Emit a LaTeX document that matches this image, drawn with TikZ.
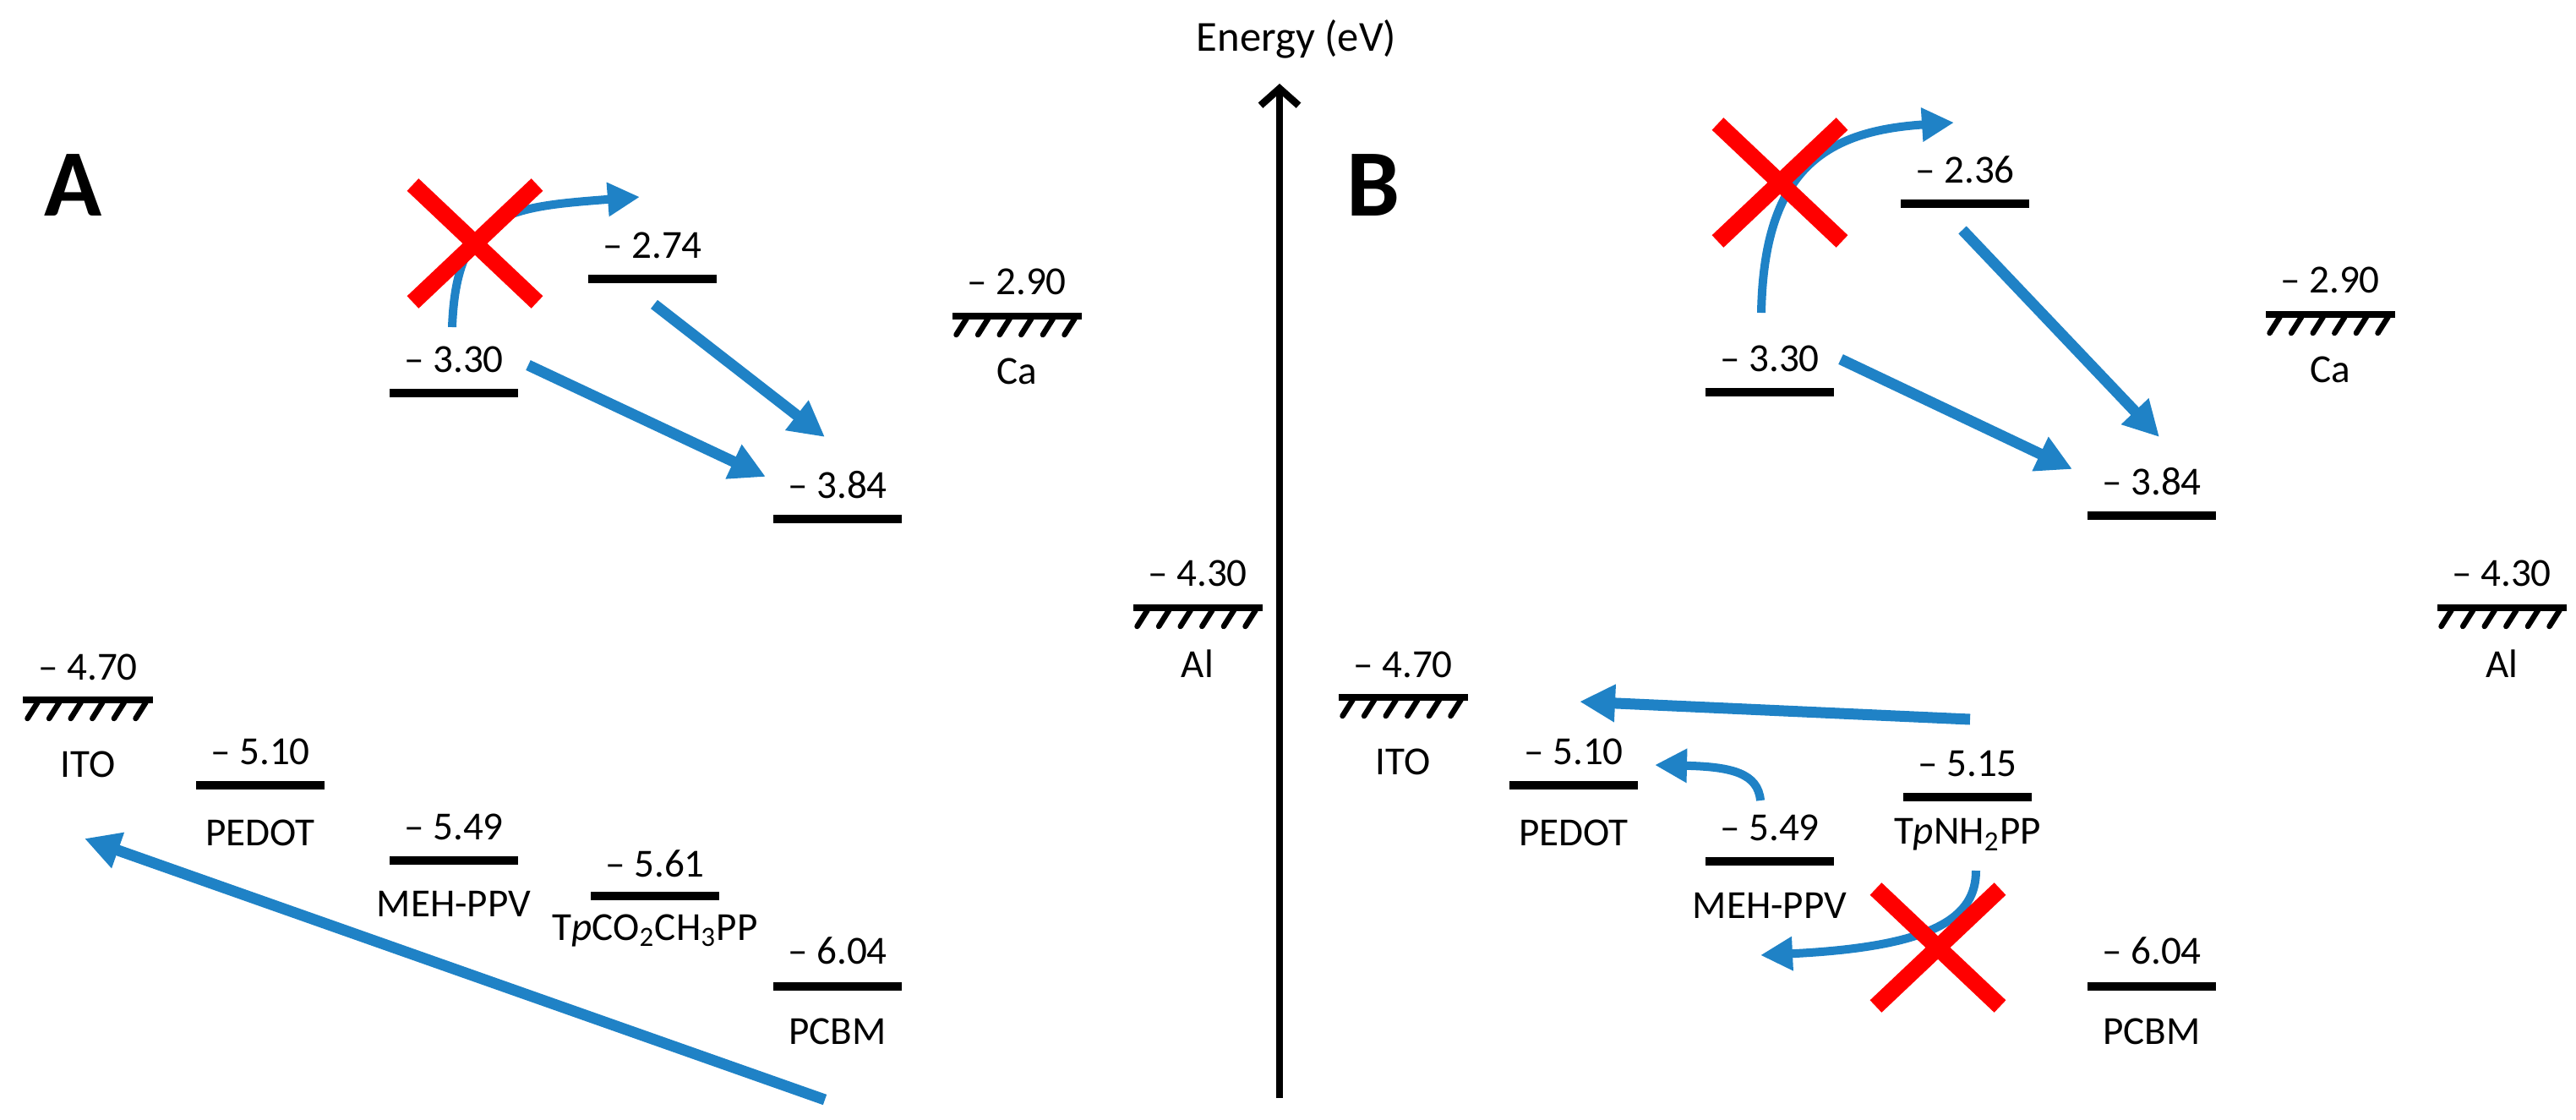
\documentclass[tikz,border=0pt]{standalone}
\usepackage{fontspec}
\setmainfont{Carlito}
\usetikzlibrary{arrows.meta,positioning,calc,shapes.misc}
\definecolor{flowblue}{RGB}{31,130,198}
\definecolor{crossred}{RGB}{255,0,0}
\tikzset{
  level/.style={fill=black, minimum width=1.52cm, minimum height=0.1cm, inner sep=0pt, outer sep=0pt},
  metal/.style={fill=black, minimum width=1.53cm, minimum height=0.08cm, inner sep=0pt, outer sep=0pt},
  hatch/.style={line width=0.065cm, line cap=round},
  value/.style={inner sep=0pt, font=\fontsize{13.4}{16}\selectfont},
  material/.style={inner sep=0pt, font=\fontsize{13.4}{16}\selectfont},
  panel/.style={inner sep=0pt, anchor=base, font=\fontsize{32}{38}\selectfont\bfseries},
  transfer/.style={draw=flowblue, line width=0.13cm, -{Triangle[length=0.42cm,width=0.42cm]}},
  curvedflow/.style={draw=flowblue, line width=0.1cm, -{Triangle[length=0.38cm,width=0.38cm]}},
  blocked/.style={cross out, draw=crossred, line width=0.2cm, minimum width=1.27cm, minimum height=1.19cm, inner sep=0pt},
  axis/.style={line width=0.085cm, -{Straight Barb[length=0.2cm,width=0.45cm]}}
}
\begin{document}
\begin{tikzpicture}
  \useasboundingbox (0,0) rectangle (30.48,-13.24);

  % energy axis
  \coordinate (ebot) at (15.14,-12.99);
  \coordinate (etop) at (15.14,-0.99);
  \draw[axis] (ebot) -- (etop);
  \node[material, anchor=base, font=\fontsize{14.4}{17}\selectfont] (elabel) at (15.34,-0.60) {Energy (eV)};

  % panel labels
  \node[panel] (pa) at (0.87,-2.55) {A};
  \node[panel] (pb) at (16.25,-2.55) {B};

  % panel A levels
  \node[metal] (aito)    at (1.04,-8.28)  {};
  \node[level] (apedot)  at (3.08,-9.29)  {};
  \node[level] (amehL)   at (5.37,-4.65)  {};
  \node[level] (amehH)   at (5.37,-10.18) {};
  \node[level] (atpL)    at (7.72,-3.30)  {};
  \node[level] (atpH)    at (7.75,-10.60) {};
  \node[level] (apcbmL)  at (9.91,-6.14)  {};
  \node[level] (apcbmH)  at (9.91,-11.67) {};
  \node[metal] (aca)     at (12.03,-3.74) {};
  \node[metal] (aal)     at (14.17,-7.19) {};

  % panel B levels
  \node[metal] (bito)    at (16.60,-8.25)  {};
  \node[level] (bpedot)  at (18.62,-9.29)  {};
  \node[level] (bmehL)   at (20.94,-4.64)  {};
  \node[level] (bmehH)   at (20.94,-10.19) {};
  \node[level] (btpL)    at (23.25,-2.41)  {};
  \node[level] (btpH)    at (23.28,-9.43)  {};
  \node[level] (bpcbmL)  at (25.46,-6.10)  {};
  \node[level] (bpcbmH)  at (25.46,-11.67) {};
  \node[metal] (bca)     at (27.57,-3.72)  {};
  \node[metal] (bal)     at (29.60,-7.19)  {};

  \foreach \m in {aito,aca,aal,bito,bca,bal}
    \foreach \i in {0,...,5}
      \draw[hatch] ($(\m.south west)+(0.17+0.256*\i,0.01)$) -- ++(-0.12,-0.19);

  % values
  \node[value, above=0.18cm of aito]   (aitov)   {– 4.70};
  \node[value, above=0.18cm of apedot] (apedotv) {– 5.10};
  \node[value, above=0.18cm of amehL]  (amehLv)  {– 3.30};
  \node[value, above=0.18cm of amehH]  (amehHv)  {– 5.49};
  \node[value, above=0.18cm of atpL]   (atpLv)   {– 2.74};
  \node[value, above=0.16cm of atpH]   (atpHv)   {– 5.61};
  \node[value, above=0.18cm of apcbmL] (apcbmLv) {– 3.84};
  \node[value, above=0.2cm of apcbmH]  (apcbmHv) {– 6.04};
  \node[value, above=0.2cm of aca]     (acav)    {– 2.90};
  \node[value, above=0.2cm of aal]     (aalv)    {– 4.30};

  \node[value, above=0.18cm of bito]   (bitov)   {– 4.70};
  \node[value, above=0.18cm of bpedot] (bpedotv) {– 5.10};
  \node[value, above=0.18cm of bmehL]  (bmehLv)  {– 3.30};
  \node[value, above=0.18cm of bmehH]  (bmehHv)  {– 5.49};
  \node[value, above=0.18cm of btpL]   (btpLv)   {– 2.36};
  \node[value, above=0.18cm of btpH]   (btpHv)   {– 5.15};
  \node[value, above=0.18cm of bpcbmL] (bpcbmLv) {– 3.84};
  \node[value, above=0.2cm of bpcbmH]  (bpcbmHv) {– 6.04};
  \node[value, above=0.2cm of bca]     (bcav)    {– 2.90};
  \node[value, above=0.2cm of bal]     (balv)    {– 4.30};

  % materials
  \node[material, below=0.56cm of aito]   (aitot)   {ITO};
  \node[material, below=0.35cm of apedot] (apedott) {PEDOT};
  \node[material, below=0.31cm of amehH]  (amehHt)  {MEH-PPV};
  \node[material, below=0.16cm of atpH]   (atpHt)   {T\textit{p}CO\textsubscript{2}CH\textsubscript{3}PP};
  \node[material, below=0.32cm of apcbmH] (apcbmHt) {PCBM};
  \node[material, below=0.45cm of aca]    (acat)    {Ca};
  \node[material, below=0.45cm of aal]    (aalt)    {Al};

  \node[material, below=0.56cm of bito]   (bitot)   {ITO};
  \node[material, below=0.35cm of bpedot] (bpedott) {PEDOT};
  \node[material, below=0.32cm of bmehH]  (bmehHt)  {MEH-PPV};
  \node[material, below=0.2cm of btpH]    (btpHt)   {T\textit{p}NH\textsubscript{2}PP};
  \node[material, below=0.32cm of bpcbmH] (bpcbmHt) {PCBM};
  \node[material, below=0.45cm of bca]    (bcat)    {Ca};
  \node[material, below=0.45cm of bal]    (balt)    {Al};

  % transfer arrows, panel A
  \coordinate (a1s) at (5.35,-3.87);  \coordinate (a1e) at (7.57,-2.33);
  \coordinate (a2s) at (7.74,-3.60);  \coordinate (a2e) at (9.76,-5.17);
  \coordinate (a3s) at (6.25,-4.32);  \coordinate (a3e) at (9.06,-5.64);
  \coordinate (a4s) at (9.76,-13.01); \coordinate (a4e) at (1.00,-9.92);
  \draw[curvedflow] (a1s) .. controls (5.40,-2.5) and (6.0,-2.45) .. (a1e);
  \draw[transfer] (a2s) -- (a2e);
  \draw[transfer] (a3s) -- (a3e);
  \draw[transfer] (a4s) -- (a4e);

  % transfer arrows, panel B
  \coordinate (b1s) at (20.84,-3.70); \coordinate (b1e) at (23.12,-1.45);
  \coordinate (b2s) at (23.22,-2.72); \coordinate (b2e) at (25.55,-5.17);
  \coordinate (b3s) at (21.78,-4.25); \coordinate (b3e) at (24.52,-5.55);
  \coordinate (b4s) at (23.31,-8.51); \coordinate (b4e) at (18.69,-8.30);
  \coordinate (b5s) at (20.83,-9.47); \coordinate (b5e) at (19.58,-9.05);
  \coordinate (b6s) at (23.38,-10.30); \coordinate (b6e) at (20.83,-11.30);
  \draw[curvedflow] (b1s) .. controls (20.87,-2.0) and (21.6,-1.55) .. (b1e);
  \draw[transfer] (b2s) -- (b2e);
  \draw[transfer] (b3s) -- (b3e);
  \draw[transfer] (b4s) -- (b4e);
  \draw[curvedflow] (b5s) .. controls (20.80,-9.15) and (20.5,-9.07) .. (b5e);
  \draw[curvedflow] (b6s) .. controls (23.38,-10.85) and (22.9,-11.2) .. (b6e);

  % blocked paths
  \node[blocked] (xa) at (5.62,-2.88)  {};
  \node[blocked] (xb) at (21.06,-2.16) {};
  \node[blocked] (xc) at (22.93,-11.21) {};

\end{tikzpicture}
\end{document}
